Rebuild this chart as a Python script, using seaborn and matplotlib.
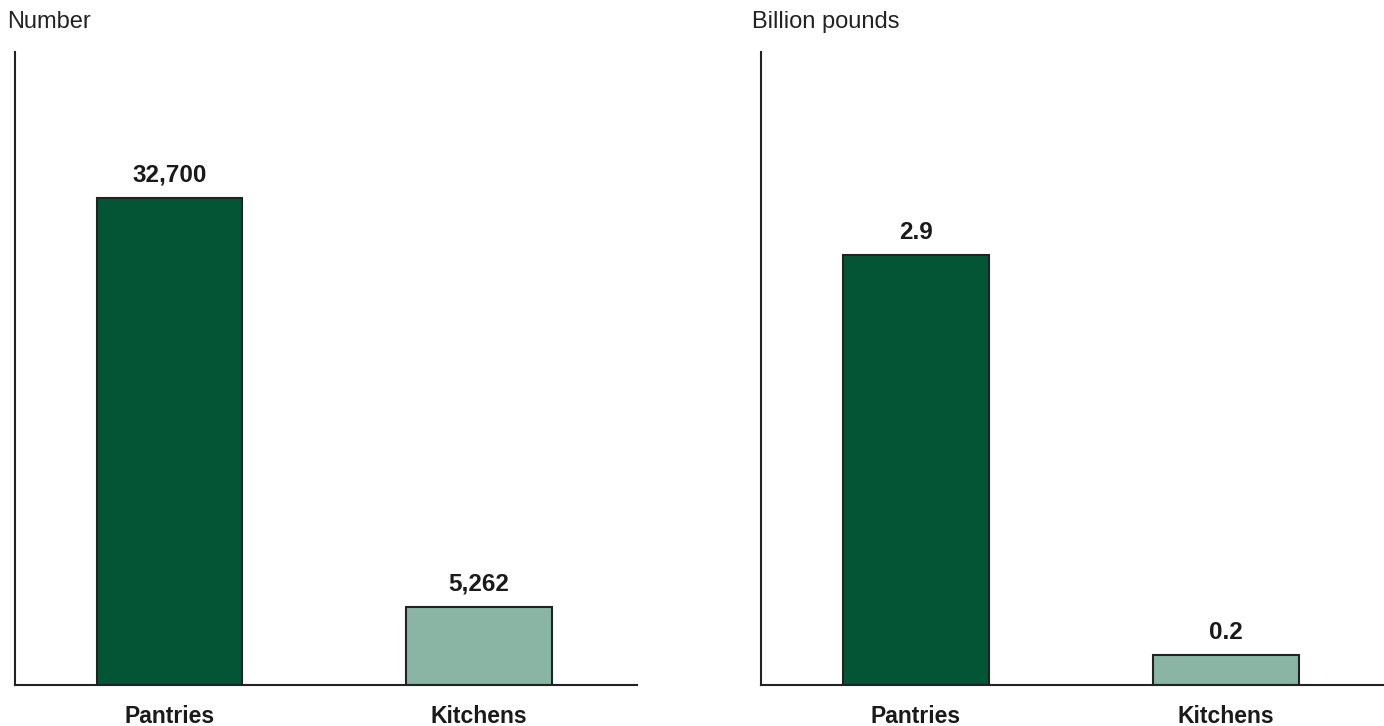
import pandas as pd
import seaborn as sns
import matplotlib.pyplot as plt

categories = ['Pantries', 'Kitchens']
counts = [32700, 5262]
pounds = [2.9, 0.2]
count_labels = ['32,700', '5,262']
pound_labels = ['2.9', '0.2']
bar_colors = ['#045535', '#8AB5A5']

sns.set_style('white')
plt.rcParams['font.family'] = ['Liberation Sans', 'DejaVu Sans']

fig = plt.figure(figsize=(13.84, 7.26), dpi=100)
ax1 = fig.add_axes([15 / 1384, 1 - 685 / 726, 622 / 1384, 633 / 726])
ax2 = fig.add_axes([761 / 1384, 1 - 685 / 726, 623 / 1384, 633 / 726])

panels = [
    (ax1, counts, count_labels, 42500, 'Number', 7),
    (ax2, pounds, pound_labels, 4.27, 'Billion pounds', 752),
]

for ax, vals, labels, ymax, unit, unit_x in panels:
    df = pd.DataFrame({'cat': categories, 'val': vals})
    sns.barplot(data=df, x='cat', y='val', hue='cat', palette=bar_colors,
                saturation=1, width=0.47, edgecolor='#222222', linewidth=1.5,
                legend=False, ax=ax)
    ax.set_xlim(-0.5, 1.51)
    ax.set_ylim(0, ymax)
    ax.set_xlabel('')
    ax.set_ylabel('')
    ax.set_yticks([])
    ax.tick_params(axis='x', length=0, pad=14.5)
    for t in ax.get_xticklabels():
        t.set_fontsize(16.5)
        t.set_fontweight('bold')
        t.set_color('#1a1a1a')
    for s in ['top', 'right']:
        ax.spines[s].set_visible(False)
    for s in ['left', 'bottom']:
        ax.spines[s].set_color('#222222')
        ax.spines[s].set_linewidth(1.5)
    for i, (v, lab) in enumerate(zip(vals, labels)):
        ax.annotate(lab, (i, v), xytext=(0, 8), textcoords='offset points',
                    ha='center', va='bottom', fontsize=17.5, fontweight='bold',
                    color='#1a1a1a')
    fig.text(unit_x / 1384, 1 - 22 / 726, unit, fontsize=17, color='#222222',
             ha='left', va='center')

fig.savefig('out.png', dpi=100, facecolor='white')
